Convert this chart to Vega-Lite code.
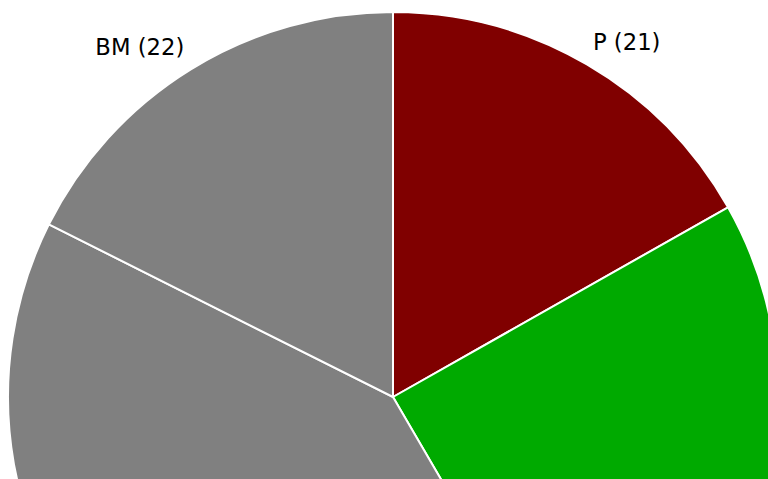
{
  "$schema": "https://vega.github.io/schema/vega-lite/v6.json",
  "width": 786,
  "height": 794,
  "autosize": {"type": "none"},
  "padding": 0,
  "background": "white",
  "view": {"stroke": null},
  "data": {
    "values": [
      {"party": "P", "seats": 21, "order": 1},
      {"party": "G", "seats": 31, "order": 2},
      {"party": "O", "seats": 51, "order": 3},
      {"party": "BM", "seats": 22, "order": 4}
    ]
  },
  "transform": [
    {"calculate": "datum.party + ' (' + datum.seats + ')'", "as": "label"}
  ],
  "encoding": {
    "theta": {"field": "seats", "type": "quantitative", "stack": true},
    "order": {"field": "order", "type": "quantitative"}
  },
  "layer": [
    {
      "mark": {"type": "arc", "radius": 385, "stroke": "white", "strokeWidth": 2},
      "encoding": {
        "color": {
          "field": "party",
          "type": "nominal",
          "scale": {"domain": ["P", "G", "O", "BM"], "range": ["#800000", "#00AA00", "#808080", "#808080"]},
          "legend": null
        }
      }
    },
    {
      "mark": {"type": "text", "radius": 407, "align": "left", "baseline": "middle", "dx": -5, "dy": -2, "font": "DejaVu Sans", "fontSize": 22.7, "color": "black"},
      "encoding": {
        "text": {"condition": {"test": "datum.party == 'P'", "field": "label"}, "value": ""}
      }
    },
    {
      "mark": {"type": "text", "radius": 407, "align": "right", "baseline": "middle", "dx": 5, "dy": -3, "font": "DejaVu Sans", "fontSize": 22.7, "color": "black"},
      "encoding": {
        "text": {"condition": {"test": "datum.party == 'BM'", "field": "label"}, "value": ""}
      }
    }
  ]
}
